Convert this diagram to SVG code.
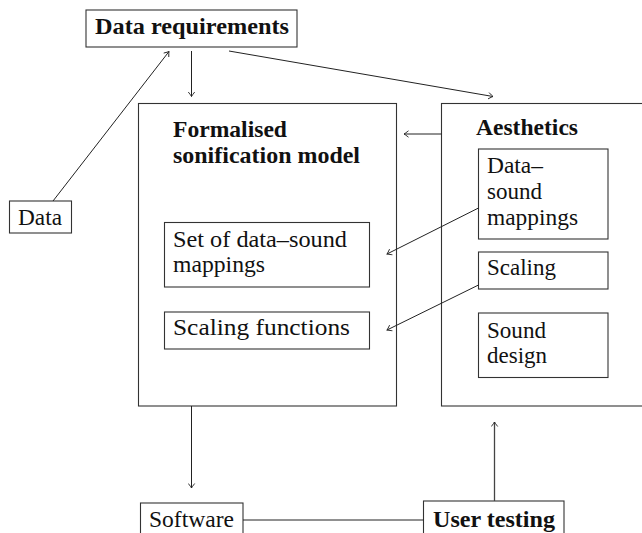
<svg xmlns="http://www.w3.org/2000/svg" width="642" height="533" viewBox="0 0 642 533">
<style>
rect{fill:none;stroke:#333;stroke-width:1.1}
text{font-family:'Liberation Serif','Times New Roman',serif;font-size:23.5px;fill:#111}
.b{font-weight:bold}
.c line{stroke:#222;stroke-width:1}
</style>
<defs>
<marker id="a" viewBox="-6 -4 7 8" markerWidth="7" markerHeight="8" refX="0" refY="0" orient="auto" markerUnits="userSpaceOnUse">
<path d="M-4.5,-3.2 Q-1.2,-0.6 0,0 Q-1.2,0.6 -4.5,3.2" fill="none" stroke="#222" stroke-width="0.9"/>
</marker>
</defs>
<rect x="0" y="0" width="642" height="533" style="fill:#fff;stroke:none"/>
<g id="data-requirements"><rect x="86" y="10" width="211" height="37"/><text class="b" x="95" y="34" textLength="194" lengthAdjust="spacingAndGlyphs">Data requirements</text></g>
<g id="data"><rect x="9.5" y="201" width="62" height="32"/><text x="18" y="225" textLength="44" lengthAdjust="spacingAndGlyphs">Data</text></g>
<g id="formalised"><rect x="138.5" y="103.5" width="258" height="302.5"/><text class="b" x="173" y="137" textLength="114" lengthAdjust="spacingAndGlyphs">Formalised</text><text class="b" x="173" y="163" textLength="187" lengthAdjust="spacingAndGlyphs">sonification model</text></g>
<g id="set-mappings"><rect x="164.5" y="222.5" width="205" height="64.5"/><text x="173" y="247" textLength="174" lengthAdjust="spacingAndGlyphs">Set of data–sound</text><text x="173" y="272" textLength="92" lengthAdjust="spacingAndGlyphs">mappings</text></g>
<g id="scaling-functions"><rect x="164.5" y="312" width="205" height="37"/><text x="173" y="335" textLength="177" lengthAdjust="spacingAndGlyphs">Scaling functions</text></g>
<g id="aesthetics"><rect x="441.5" y="103.5" width="210" height="302.5"/><text class="b" x="476" y="135" textLength="102" lengthAdjust="spacingAndGlyphs">Aesthetics</text></g>
<g id="ds-mappings"><rect x="478.5" y="149" width="129.5" height="90"/><text x="487" y="173" textLength="56" lengthAdjust="spacingAndGlyphs">Data–</text><text x="487" y="199" textLength="55" lengthAdjust="spacingAndGlyphs">sound</text><text x="487" y="225" textLength="91" lengthAdjust="spacingAndGlyphs">mappings</text></g>
<g id="scaling"><rect x="478.5" y="252" width="129.5" height="37"/><text x="487" y="275" textLength="69" lengthAdjust="spacingAndGlyphs">Scaling</text></g>
<g id="sound-design"><rect x="478.5" y="313" width="129.5" height="64.5"/><text x="487" y="338" textLength="59" lengthAdjust="spacingAndGlyphs">Sound</text><text x="487" y="363" textLength="60" lengthAdjust="spacingAndGlyphs">design</text></g>
<g id="software"><rect x="140.5" y="503" width="102.5" height="40"/><text x="149" y="527" textLength="85" lengthAdjust="spacingAndGlyphs">Software</text></g>
<g id="user-testing"><rect x="423.5" y="501" width="140.5" height="42"/><text class="b" x="433" y="527" textLength="122" lengthAdjust="spacingAndGlyphs">User testing</text></g>
<g class="c" id="connectors">
<line x1="53" y1="201" x2="169" y2="51.5" marker-end="url(#a)"/>
<line x1="191.5" y1="51" x2="191.5" y2="96.5" marker-end="url(#a)"/>
<line x1="229" y1="51" x2="493" y2="96.5" marker-end="url(#a)"/>
<line x1="441.5" y1="134" x2="404" y2="134" marker-end="url(#a)"/>
<line x1="478.5" y1="208" x2="387" y2="254" marker-end="url(#a)"/>
<line x1="478.5" y1="285" x2="387" y2="330" marker-end="url(#a)"/>
<line x1="191.5" y1="406" x2="191.5" y2="488" marker-end="url(#a)"/>
<line x1="494.5" y1="501" x2="494.5" y2="422" marker-end="url(#a)" style="stroke:#444;stroke-width:1.3"/>
<line x1="243" y1="520" x2="423.5" y2="520"/>
</g>
</svg>
